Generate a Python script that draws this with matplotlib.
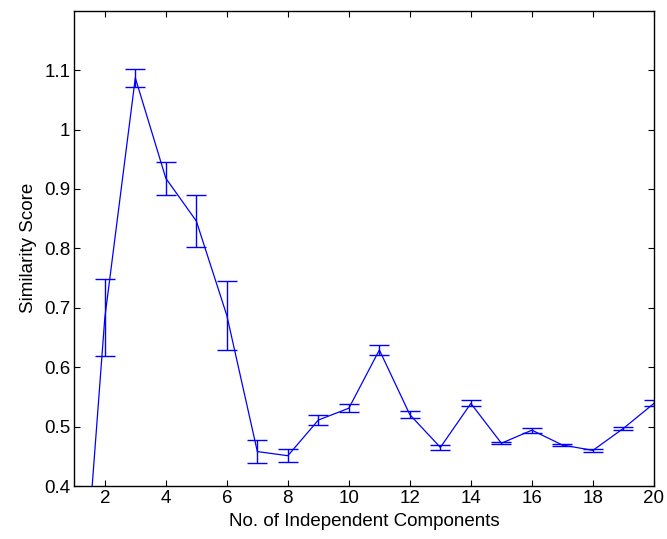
import matplotlib.pyplot as plt
import numpy as np

# number of independent components
components = [1, 2, 3, 4, 5, 6, 7, 8, 9, 10, 11, 12, 13, 14, 15, 16, 17, 18, 19, 20]
# mean similarity score
score = [0.0, 0.683, 1.087, 0.918, 0.846, 0.687, 0.458, 0.451, 0.511, 0.531,
         0.629, 0.520, 0.465, 0.539, 0.472, 0.494, 0.469, 0.460, 0.497, 0.539]
# half width of the error bars
err = [0.0, 0.065, 0.015, 0.028, 0.044, 0.058, 0.020, 0.011, 0.008, 0.007,
       0.009, 0.006, 0.004, 0.005, 0.002, 0.004, 0.002, 0.002, 0.003, 0.005]

yticks = [0.4, 0.5, 0.6, 0.7, 0.8, 0.9, 1.0, 1.1]
ytick_labels = ['0.4', '0.5', '0.6', '0.7', '0.8', '0.9', '1', '1.1']
xticks = [2, 4, 6, 8, 10, 12, 14, 16, 18, 20]

plt.rcParams['font.family'] = ['Liberation Sans', 'DejaVu Sans']

fig = plt.figure(figsize=(6.67, 5.39), dpi=100)
ax = fig.add_axes([0.1114, 0.0983, 0.869, 0.8818])

ax.errorbar(components, score, yerr=err, color='blue', lw=0.9,
            elinewidth=1.0, capsize=7.5, capthick=1.0)

ax.set_xlim(1, 20)
ax.set_ylim(0.4, 1.2)
ax.set_xticks(xticks)
ax.set_yticks(yticks)
ax.set_yticklabels(ytick_labels)
ax.tick_params(direction='in', length=4.5, width=0.8, top=True, right=True,
               labelsize=13.5, pad=3)
for s in ax.spines.values():
    s.set_linewidth(1.0)

ax.set_xlabel('No. of Independent Components', fontsize=13.5, labelpad=4)
ax.set_ylabel('Similarity Score', fontsize=13.5, labelpad=5)

fig.savefig('out.png', dpi=100)
